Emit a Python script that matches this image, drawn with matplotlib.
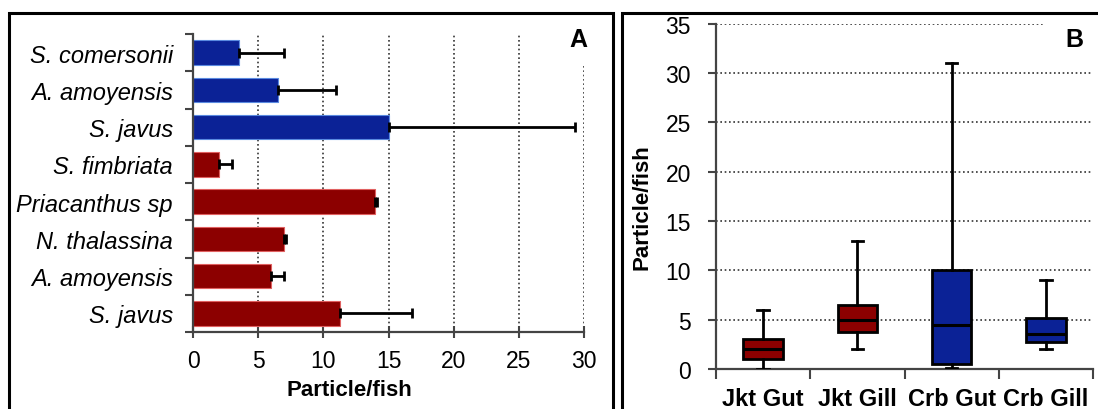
import numpy as np
import matplotlib
matplotlib.use("Agg")
import matplotlib.pyplot as plt
from matplotlib.patches import Rectangle

plt.rcParams['font.family'] = ['Liberation Sans', 'DejaVu Sans']

# ---- Panel A data ----
species = ["S. comersonii", "A. amoyensis", "S. javus", "S. fimbriata",
           "Priacanthus sp", "N. thalassina", "A. amoyensis", "S. javus"]
means = [3.5, 6.5, 15.0, 2.0, 14.0, 7.0, 6.0, 11.3]
err_up = [3.5, 4.5, 14.3, 1.0, 0.1, 0.1, 1.0, 5.5]
groups = ["blue", "blue", "blue", "red", "red", "red", "red", "red"]
xticks_a = [0, 5, 10, 15, 20, 25, 30]

# ---- Panel B data ----
box_labels = ["Jkt Gut", "Jkt Gill", "Crb Gut", "Crb Gill"]
whislo = [0.0, 2.0, 0.1, 2.0]
q1 = [1.0, 3.7, 0.5, 2.7]
med = [2.0, 5.0, 4.5, 3.5]
q3 = [3.0, 6.5, 10.0, 5.2]
whishi = [6.0, 13.0, 31.0, 9.0]
box_groups = ["red", "red", "blue", "blue"]
yticks_b = [0, 5, 10, 15, 20, 25, 30, 35]

RED = "#8c0000"
BLUE = "#0b2296"
RED_EDGE = "#e06060"
BLUE_EDGE = "#5a8ae0"
colmap = {"red": RED, "blue": BLUE}
edgemap = {"red": RED_EDGE, "blue": BLUE_EDGE}

W, H = 1098, 410
fig = plt.figure(figsize=(W / 100, H / 100), dpi=100)

def fx(px):
    return px / W

def fy(py):
    return 1 - py / H

# frames
fig.patches.append(Rectangle((fx(9), fy(420)), fx(613) - fx(9), fy(14) - fy(420),
                             transform=fig.transFigure, fill=False, lw=2.2, ec="black"))
fig.patches.append(Rectangle((fx(622), fy(420)), fx(1104) - fx(622), fy(14) - fy(420),
                             transform=fig.transFigure, fill=False, lw=2.2, ec="black"))

GRID_KW = dict(color="#333333", lw=1.2, ls=(0, (1, 1.6)))
AX_COL = "#444444"

# ---------------- Panel A ----------------
A_L, A_R, A_T, A_B = 193, 584, 35, 333
axA = fig.add_axes([fx(A_L), fy(A_B), fx(A_R) - fx(A_L), fy(A_T) - fy(A_B)])
n = len(species)
ypos = np.arange(n)[::-1]
axA.set_ylim(-0.5, n - 0.5)
axA.set_xlim(0, 30)
for x in xticks_a[1:-1]:
    axA.axvline(x, zorder=0, **GRID_KW)
axA.axvline(30, ymax=(A_B - 65) / (A_B - A_T), zorder=0, **GRID_KW)

axA.barh(ypos, means, height=0.66,
         color=[colmap[g] for g in groups],
         edgecolor=[edgemap[g] for g in groups], linewidth=0.8, zorder=2)
axA.errorbar(means, ypos, xerr=[np.zeros(n), err_up], fmt="none",
             ecolor="black", elinewidth=2, capsize=3.5, capthick=2, zorder=3)

axA.set_yticks(np.arange(n + 1) - 0.5)
axA.set_yticklabels([])
axA.set_yticks(ypos, minor=True)
axA.set_yticklabels(species, minor=True, fontsize=17, style="italic")
axA.tick_params(axis="y", which="minor", length=0, pad=14.5)
axA.tick_params(axis="y", which="major", length=6, width=1.5, color=AX_COL, direction="out")
axA.set_xticks(xticks_a)
axA.tick_params(axis="x", which="major", length=8, width=1.5, color=AX_COL,
                direction="inout", labelsize=16.5, pad=8)
axA.set_xlabel("Particle/fish", fontsize=16, fontweight="bold", ha="center", va="center")
axA.xaxis.set_label_coords((349 - A_L) / (A_R - A_L), (A_B - 390) / (A_B - A_T))
for s in ["top", "right"]:
    axA.spines[s].set_visible(False)
for s in ["left", "bottom"]:
    axA.spines[s].set_color(AX_COL)
    axA.spines[s].set_linewidth(1.6)

fig.text(fx(578), fy(40), "A", fontsize=18, fontweight="bold", ha="center", va="center")

# ---------------- Panel B ----------------
B_L, B_R, B_T, B_B = 716, 1093, 24.5, 370
axB = fig.add_axes([fx(B_L), fy(B_B), fx(B_R) - fx(B_L), fy(B_T) - fy(B_B)])
axB.set_ylim(0, 35)
axB.set_xlim(0.5, 4.5)
for y in yticks_b[1:-1]:
    axB.axhline(y, zorder=0, **GRID_KW)
axB.axhline(35, xmax=(1044 - B_L) / (B_R - B_L), zorder=0, **GRID_KW)

stats = []
for i in range(len(box_labels)):
    stats.append(dict(label=box_labels[i], whislo=whislo[i], q1=q1[i], med=med[i],
                      q3=q3[i], whishi=whishi[i], fliers=[]))
bp = axB.bxp(stats, positions=[1, 2, 3, 4], widths=0.42, patch_artist=True,
             showfliers=False,
             boxprops=dict(lw=2, edgecolor="black"),
             medianprops=dict(color="black", lw=2.2),
             whiskerprops=dict(color="black", lw=2),
             capprops=dict(color="black", lw=2), capwidths=0.12, zorder=3)
for patch, g in zip(bp["boxes"], box_groups):
    patch.set_facecolor(colmap[g])

axB.set_xticks([0.5, 1.5, 2.5, 3.5, 4.5])
axB.set_xticklabels([])
axB.set_xticks([1, 2, 3, 4], minor=True)
axB.set_xticklabels(box_labels, minor=True, fontsize=17, fontweight="bold")
axB.tick_params(axis="x", which="minor", length=0, pad=13)
axB.tick_params(axis="x", which="major", length=7, width=1.5, color=AX_COL, direction="out")
axB.set_yticks(yticks_b)
axB.tick_params(axis="y", length=6, width=1.5, color=AX_COL, direction="out",
                labelsize=16.5, pad=12)
axB.set_ylabel("Particle/fish", fontsize=16, fontweight="bold", ha="center", va="center")
axB.yaxis.set_label_coords((642 - B_L) / (B_R - B_L), (B_B - 207) / (B_B - B_T))
for s in ["top", "right"]:
    axB.spines[s].set_visible(False)
for s in ["left", "bottom"]:
    axB.spines[s].set_color(AX_COL)
    axB.spines[s].set_linewidth(1.6)

fig.text(fx(1074), fy(40), "B", fontsize=18, fontweight="bold", ha="center", va="center")

fig.savefig("out.png", dpi=100)
